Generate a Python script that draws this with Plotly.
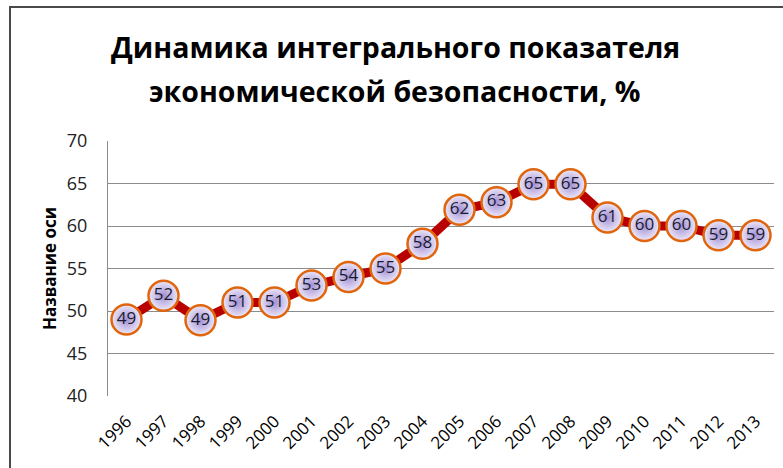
import plotly.graph_objects as go

years = ["1996", "1997", "1998", "1999", "2000", "2001", "2002", "2003", "2004",
         "2005", "2006", "2007", "2008", "2009", "2010", "2011", "2012", "2013"]
values = [49.0, 51.8, 48.9, 51.0, 51.0, 53.0, 54.0, 55.0, 57.9,
          61.9, 62.8, 64.9, 64.9, 61.0, 60.0, 60.0, 58.9, 58.9]
y_ticks = [40, 45, 50, 55, 60, 65, 70]

title_lines = ["Динамика интегрального показателя",
               "экономической безопасности, %"]
y_title = "Название оси"

W, H = 783, 468
L, R, T, B = 108, 9, 141, 72
pw, ph = W - L - R, H - T - B

fig = go.Figure()
fig.add_trace(go.Scatter(
    x=years, y=values,
    mode="lines+markers+text",
    line=dict(color="#b80000", width=9),
    marker=dict(size=30, color="#ede8f9",
                gradient=dict(type="radial", color="#a290d3"),
                line=dict(color="#e0650c", width=2.5)),
    text=[f"{v:.0f}" for v in values],
    textposition="middle center",
    textfont=dict(family="Open Sans", size=17, color="#1a1a30"),
    hoverinfo="skip",
    cliponaxis=False,
))

# outer chart frame
fx0 = (10 - L) / pw
fy1 = 1 + (T - 7) / ph
fig.add_shape(type="rect", xref="paper", yref="paper",
              x0=fx0, x1=1.5, y0=-1.0, y1=fy1,
              line=dict(color="#4a4a4a", width=2), layer="below")

# title lines
for txt, yc in zip(title_lines, [47, 91]):
    fig.add_annotation(text="<b>" + txt + "</b>", showarrow=False,
                       xref="paper", yref="paper",
                       x=(395 - L) / pw, y=1 + (T - yc) / ph,
                       xanchor="center", yanchor="middle",
                       font=dict(family="Open Sans", size=28.5, color="black"))

fig.update_layout(
    width=W, height=H,
    margin=dict(l=L, r=R, t=T, b=B, autoexpand=False),
    paper_bgcolor="white", plot_bgcolor="white",
    showlegend=False,
    xaxis=dict(type="category", range=[-0.5, len(years) - 0.5],
               showgrid=False, showline=False, zeroline=False,
               ticks="", tickangle=-45, ticklabelstandoff=11,
               tickfont=dict(family="Open Sans", size=17, color="black")),
    yaxis=dict(range=[40, 70], tickvals=y_ticks,
               showgrid=True, gridcolor="#8c8c8c", gridwidth=1,
               showline=True, linecolor="#8c8c8c", linewidth=1,
               zeroline=False, ticks="", ticklabelstandoff=16,
               tickfont=dict(family="Open Sans", size=18, color="#222"),
               title=dict(text="<b>" + y_title + "</b>",
                          font=dict(family="Open Sans", size=17, color="black"),
                          standoff=5)),
)
fig.write_html("out.html", config={"displayModeBar": False},
               post_script="document.body.style.margin='0';")
